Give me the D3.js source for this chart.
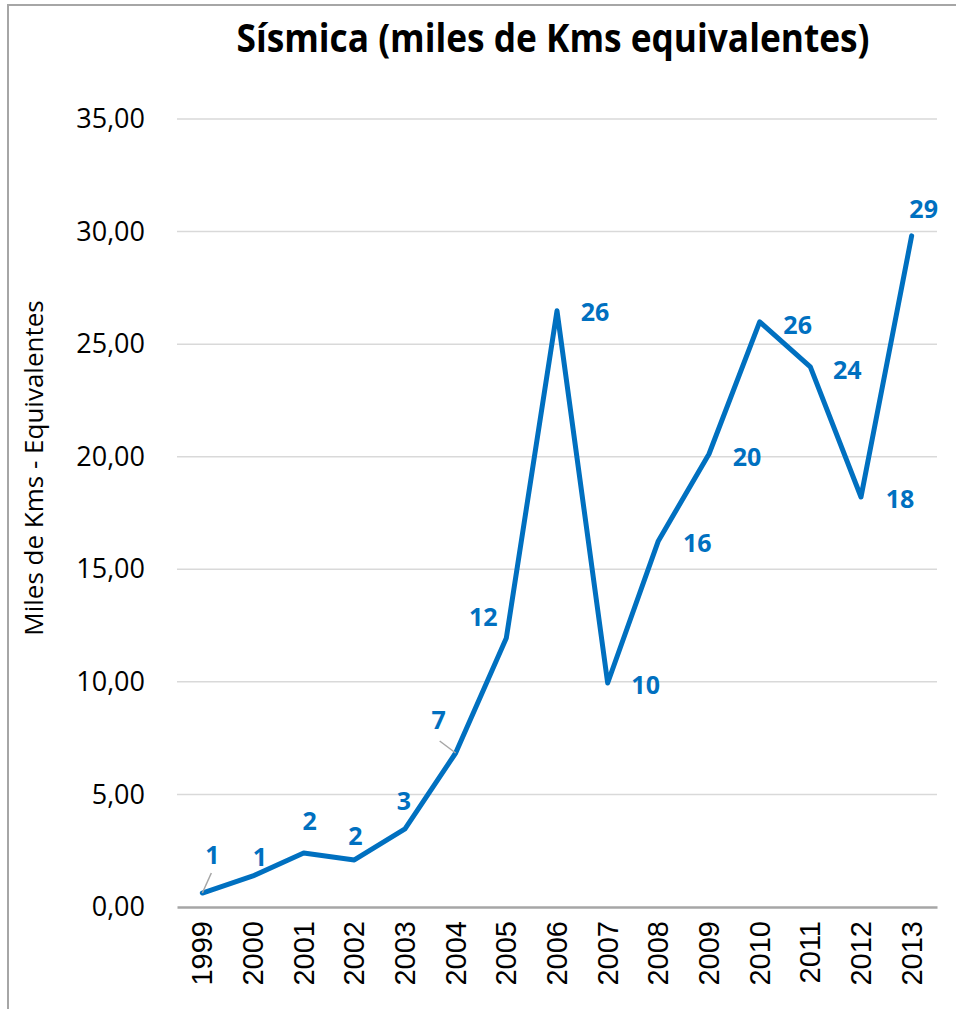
<!DOCTYPE html>
<html>
<head>
<meta charset="utf-8">
<script src="https://cdn.jsdelivr.net/npm/d3@7"></script>
<style>
  body { margin: 0; background: #fff; }
  svg { display: block; }
</style>
</head>
<body>
<div id="chart"></div>
<script>
// data
const years = ["1999", "2000", "2001", "2002", "2003", "2004", "2005", "2006",
               "2007", "2008", "2009", "2010", "2011", "2012", "2013"];
const kms = [0.62, 1.38, 2.40, 2.09, 3.47, 6.84, 11.95, 26.48,
             9.95, 16.26, 20.12, 25.99, 23.99, 18.21, 29.81];
const valueLabels = ["1", "1", "2", "2", "3", "7", "12", "26",
                     "10", "16", "20", "26", "24", "18", "29"];
const yTicks = [0, 5, 10, 15, 20, 25, 30, 35];

// where each data label sits relative to its point (Excel-ish placement)
const labelOffsets = [[10, -38], [7, -19], [6, -32], [1, -24], [-1, -28], [-17, -33],
                      [-23, -21], [38, 1], [38, 2], [39, 2], [38, 3], [38, 3],
                      [37, 3], [39, 2], [12, -27]];
const leaders = { 0: [9, -20], 5: [-16, -12] };

const width = 956, height = 1009;
const margin = { top: 119, right: 19, bottom: 102, left: 177 };
const blue = "#0070C0";

const svg = d3.select("#chart").append("svg")
    .attr("width", width)
    .attr("height", height);

// chart frame
svg.append("rect")
    .attr("x", 8).attr("y", 5)
    .attr("width", 980).attr("height", 1040)
    .attr("fill", "none")
    .attr("stroke", "#a6a6a6")
    .attr("stroke-width", 2);

const x = d3.scaleBand()
    .domain(years)
    .range([margin.left, width - margin.right])
    .padding(0);

const y = d3.scaleLinear()
    .domain([0, 35])
    .range([height - margin.bottom, margin.top]);

const fmt = d3.formatLocale({ decimal: ",", thousands: ".", grouping: [3], currency: ["", "€"] }).format(".2f");

// gridlines
svg.append("g")
    .selectAll("line")
    .data(yTicks.filter(d => d > 0))
    .join("line")
    .attr("x1", margin.left)
    .attr("x2", width - margin.right)
    .attr("y1", d => y(d))
    .attr("y2", d => y(d))
    .attr("stroke", "#d9d9d9")
    .attr("stroke-width", 1.5);

// y axis labels
const yAxis = svg.append("g")
    .attr("transform", `translate(${margin.left},0)`)
    .call(d3.axisLeft(y).tickValues(yTicks).tickFormat(fmt).tickSize(0).tickPadding(32));
yAxis.select(".domain").remove();
yAxis.selectAll("text")
    .attr("font-family", "'Open Sans', sans-serif")
    .attr("font-size", 27)
    .attr("fill", "#000");

// x axis
const xAxis = svg.append("g")
    .attr("transform", `translate(0,${y(0)})`)
    .call(d3.axisBottom(x).tickSize(0).tickPadding(0));
xAxis.select(".domain")
    .attr("stroke", "#a6a6a6")
    .attr("stroke-width", 2.5);
xAxis.selectAll("text")
    .attr("font-family", "'Liberation Sans', Arial, sans-serif")
    .attr("font-size", 29)
    .attr("fill", "#000")
    .attr("text-anchor", "end")
    .attr("dy", "0.35em")
    .attr("transform", "translate(0,14) rotate(-90)");

// y axis title
svg.append("text")
    .attr("transform", "translate(43,468) rotate(-90)")
    .attr("text-anchor", "middle")
    .attr("font-family", "'Open Sans', sans-serif")
    .attr("font-size", 26)
    .attr("fill", "#000")
    .text("Miles de Kms - Equivalentes");

// title
svg.append("text")
    .attr("x", 553)
    .attr("y", 52)
    .attr("text-anchor", "middle")
    .attr("font-family", "'Open Sans', sans-serif")
    .attr("font-weight", "bold")
    .attr("font-size", 39)
    .attr("textLength", 633)
    .attr("lengthAdjust", "spacingAndGlyphs")
    .attr("fill", "#000")
    .text("Sísmica (miles de Kms equivalentes)");

// the line
const pts = years.map((yr, i) => [x(yr) + x.bandwidth() / 2, y(kms[i])]);
svg.append("path")
    .datum(pts)
    .attr("d", d3.line())
    .attr("fill", "none")
    .attr("stroke", blue)
    .attr("stroke-width", 5)
    .attr("stroke-linejoin", "round")
    .attr("stroke-linecap", "round");

// leader lines
Object.entries(leaders).forEach(([i, [dx, dy]]) => {
    const [px, py] = pts[+i];
    svg.append("line")
        .attr("x1", px).attr("y1", py)
        .attr("x2", px + dx).attr("y2", py + dy)
        .attr("stroke", "#a6a6a6")
        .attr("stroke-width", 1.5);
});

// data labels
svg.append("g")
    .selectAll("text")
    .data(valueLabels)
    .join("text")
    .attr("x", (d, i) => pts[i][0] + labelOffsets[i][0])
    .attr("y", (d, i) => pts[i][1] + labelOffsets[i][1])
    .attr("dy", "0.36em")
    .attr("text-anchor", "middle")
    .attr("font-family", "'Open Sans', sans-serif")
    .attr("font-weight", "bold")
    .attr("font-size", 25)
    .attr("fill", blue)
    .text(d => d);
</script>
</body>
</html>
